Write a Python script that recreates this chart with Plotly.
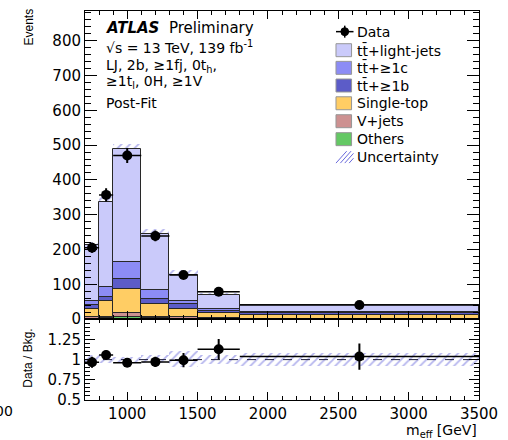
import numpy as np
import plotly.graph_objects as go
from plotly.subplots import make_subplots

# ---------------- data ----------------
bin_edges = [700, 800, 900, 1100, 1300, 1500, 1800, 3500]
others = [2, 3, 7, 3, 2, 1, 1]
vjets = [3, 4, 10, 4, 3, 2, 1]
single_top = [24, 44, 69, 36, 24, 15, 11]
ttb = [12, 12, 29, 15, 14, 6, 5]
ttc = [10, 30, 49, 26, 10, 6, 4]
ttlight = [161, 245, 325, 162, 75, 40, 17.5]
data = [205, 357, 470, 239, 127, 79, 41]
rel_unc = [0.05, 0.05, 0.03, 0.05, 0.10, 0.06, 0.08]

y_ticks_main = [0, 100, 200, 300, 400, 500, 600, 700, 800]
y_ticks_ratio = [0.5, 0.75, 1, 1.25]
x_ticks = [1000, 1500, 2000, 2500, 3000, 3500]

TT = "t" + "t\u0304"
legend_labels = ["Data", TT + "+light-jets", TT + "+\u22651c", TT + "+\u22651b",
                 "Single-top", "V+jets", "Others", "Uncertainty"]

# ---------------- derived ----------------
edges = np.array(bin_edges, dtype=float)
centers = 0.5 * (edges[1:] + edges[:-1])
widths = edges[1:] - edges[:-1]
halfw = widths / 2

C_OTH = "rgb(100,200,100)"
C_VJ = "rgb(205,145,145)"
C_ST = "rgb(255,205,100)"
C_B = "rgb(92,92,200)"
C_C = "rgb(140,140,245)"
C_L = "rgb(202,202,250)"
C_HATCH = "rgb(105,105,220)"

comps = [
    ("Others", others, C_OTH),
    ("V+jets", vjets, C_VJ),
    ("Single-top", single_top, C_ST),
    (TT + "+\u22651b", ttb, C_B),
    (TT + "+\u22651c", ttc, C_C),
    (TT + "+light-jets", ttlight, C_L),
]
total = np.zeros(len(centers))
for _, v, _ in comps:
    total += np.array(v, dtype=float)
unc = total * np.array(rel_unc)
d = np.array(data, dtype=float)
derr = np.sqrt(d)
ratio = d / total
ratio_err = derr / total

FONT = "DejaVu Sans"
hatch = dict(shape="/", fgcolor=C_HATCH, bgcolor="rgba(0,0,0,0)",
             size=6, solidity=0.3, fillmode="overlay")

fig = make_subplots(rows=2, cols=1, shared_xaxes=True, vertical_spacing=0,
                    row_heights=[309, 81])

# uncertainty band (main), beneath stack
fig.add_trace(go.Bar(x=centers, base=total - unc, y=2 * unc, width=widths,
                     marker=dict(color="rgba(0,0,0,0)", pattern=hatch, line=dict(width=0)),
                     name="Uncertainty", showlegend=False), row=1, col=1)

cum = np.zeros(len(centers))
for name, v, col in comps:
    v = np.array(v, dtype=float)
    fig.add_trace(go.Bar(x=centers, base=cum.copy(), y=v, width=widths,
                         marker=dict(color=col, line=dict(color="rgb(40,40,40)", width=1)),
                         name=name, showlegend=False), row=1, col=1)
    cum += v

fig.add_trace(go.Scatter(x=centers, y=d, mode="markers", name="Data", showlegend=False,
                         marker=dict(color="black", size=10),
                         error_y=dict(type="data", array=derr, color="black", thickness=2, width=0),
                         error_x=dict(type="data", array=halfw, color="black", thickness=1.5, width=0)),
              row=1, col=1)

# ratio panel
fig.add_trace(go.Bar(x=centers, base=1 - np.array(rel_unc), y=2 * np.array(rel_unc), width=widths,
                     marker=dict(color="rgba(0,0,0,0)", pattern=hatch, line=dict(width=0)),
                     showlegend=False), row=2, col=1)
fig.add_trace(go.Scatter(x=[edges[0], edges[-1]], y=[1, 1], mode="lines",
                         line=dict(color="rgb(30,30,60)", width=1, dash="dash"),
                         showlegend=False), row=2, col=1)
fig.add_trace(go.Scatter(x=centers, y=ratio, mode="markers", showlegend=False,
                         marker=dict(color="black", size=10),
                         error_y=dict(type="data", array=ratio_err, color="black", thickness=2, width=0),
                         error_x=dict(type="data", array=halfw, color="black", thickness=1.5, width=0)),
              row=2, col=1)

axis_common = dict(showline=True, linecolor="black", linewidth=1, mirror="allticks",
                   ticks="inside", tickcolor="black", showgrid=False, zeroline=False,
                   tickfont=dict(family=FONT, size=15, color="black"))

fig.update_xaxes(range=[edges[0], edges[-1]], tickvals=x_ticks, ticklen=8,
                 ticklabeloverflow="allow",
                 minor=dict(dtick=100, ticks="inside", ticklen=4, tickcolor="black"),
                 **axis_common)
fig.update_xaxes(showticklabels=False, row=1, col=1)
fig.update_yaxes(range=[0, 885], tickvals=y_ticks_main, ticklen=12,
                 minor=dict(dtick=20, ticks="inside", ticklen=6, tickcolor="black"),
                 row=1, col=1, **axis_common)
fig.update_yaxes(range=[0.5, 1.5], tickvals=y_ticks_ratio, ticktext=["0.5", "0.75", "1", "1.25"],
                 ticklen=10,
                 minor=dict(dtick=0.05, ticks="inside", ticklen=5, tickcolor="black"),
                 row=2, col=1, **axis_common)

L, R, T, B = 85, 18, 10, 40
W, H = 508, 440
pw, ph = W - L - R, H - T - B


def px(xp):
    return (xp - L) / pw


def py(yp):
    return (H - B - yp) / ph


ann = [
    dict(text="<b><i>ATLAS</i></b>  Preliminary", x=px(105), y=py(27), size=15),
    dict(text="\u221As = 13 TeV, 139 fb<sup>-1</sup>", x=px(105), y=py(46), size=14),
    dict(text="LJ, 2b, \u22651fj, 0t<sub>h</sub>,", x=px(105), y=py(65), size=14),
    dict(text="\u22651t<sub>l</sub>, 0H, \u22651V", x=px(105), y=py(81), size=14),
    dict(text="Post-Fit", x=px(105), y=py(102), size=14),
]
annotations = []
for a in ann:
    annotations.append(dict(text=a["text"], x=a["x"], y=a["y"], xref="paper", yref="paper",
                            xanchor="left", yanchor="middle", showarrow=False,
                            font=dict(family=FONT, size=a["size"], color="black")))
annotations += [
    dict(text="Events", x=px(27), y=py(26), xref="paper", yref="paper", textangle=-90,
         xanchor="center", yanchor="middle", showarrow=False,
         font=dict(family="Liberation Sans", size=12, color="black")),
    dict(text="Data / Bkg.", x=px(27), y=py(358), xref="paper", yref="paper", textangle=-90,
         xanchor="center", yanchor="middle", showarrow=False,
         font=dict(family="Liberation Sans", size=12, color="black")),
    dict(text="m<sub>eff</sub> [GeV]", x=px(490), y=py(431), xref="paper", yref="paper",
         xanchor="right", yanchor="middle", showarrow=False,
         font=dict(family=FONT, size=14, color="black")),
    dict(text="00", x=px(13), y=py(411), xref="paper", yref="paper",
         xanchor="right", yanchor="middle", showarrow=False,
         font=dict(family=FONT, size=14, color="black")),
]

# ---------------- manual legend ----------------
leg_rows = [30.7, 49.3, 67.0, 84.7, 102.5, 120.5, 138.5, 156.5]
box_colors = [None, C_L, C_C, C_B, C_ST, C_VJ, C_OTH, None]
shapes = []
bx0, bx1 = 343, 359
for i, (lab, yc) in enumerate(zip(legend_labels, leg_rows)):
    annotations.append(dict(text=lab, x=px(363), y=py(yc), xref="paper", yref="paper",
                            xanchor="left", yanchor="middle", showarrow=False,
                            font=dict(family=FONT, size=14, color="black")))
    if box_colors[i] is not None:
        shapes.append(dict(type="rect", xref="paper", yref="paper",
                           x0=px(bx0), x1=px(bx1), y0=py(yc + 6.5), y1=py(yc - 6.5),
                           fillcolor=box_colors[i], line=dict(color="rgb(150,150,150)", width=1)))
# data symbol
yd = leg_rows[0]
shapes.append(dict(type="line", xref="paper", yref="paper", x0=px(343), x1=px(361),
                   y0=py(yd), y1=py(yd), line=dict(color="black", width=1.5)))
shapes.append(dict(type="circle", xref="paper", yref="paper", x0=px(348), x1=px(356),
                   y0=py(yd + 4), y1=py(yd - 4), fillcolor="black", line=dict(color="black", width=1)))
shapes.append(dict(type="line", xref="paper", yref="paper", x0=px(352), x1=px(352),
                   y0=py(yd + 6), y1=py(yd - 6), line=dict(color="black", width=1.5)))
# uncertainty symbol (hatch)
yu = leg_rows[7]
for k in range(4):
    xs = bx0 + k * 4.5
    xe = min(xs + 11, bx1 + 2)
    shapes.append(dict(type="line", xref="paper", yref="paper",
                       x0=px(xs), x1=px(xe),
                       y0=py(yu + 6), y1=py(yu + 6 - (xe - xs) * 12 / 11),
                       line=dict(color=C_HATCH, width=1)))

fig.update_layout(
    width=W, height=H, margin=dict(l=L, r=R, t=T, b=B),
    barmode="overlay", bargap=0,
    paper_bgcolor="white", plot_bgcolor="white",
    font=dict(family=FONT, size=14, color="black"),
    showlegend=False,
    annotations=annotations,
    shapes=shapes,
)

fig.write_html("out.html")
